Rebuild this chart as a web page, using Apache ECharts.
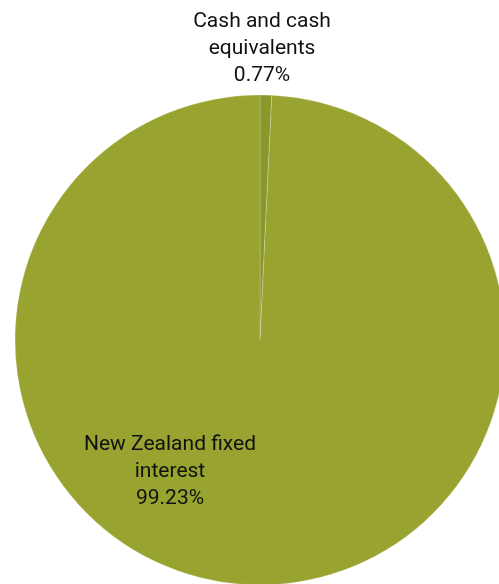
<!DOCTYPE html>
<html>
<head>
<meta charset="utf-8">
<script src="https://cdn.jsdelivr.net/npm/echarts@6/dist/echarts.min.js"></script>
<style>html,body{margin:0;padding:0;background:#fff;}#c{width:499px;height:584px;}</style>
</head>
<body>
<div id="c"></div>
<script>
const categories = ["Cash and cash\nequivalents", "New Zealand fixed\ninterest"];
const values = [0.77, 99.23];
const colors = ["#8a982b", "#98a330"];
const labelPos = [[262, 49], [170, 472]];

const chart = echarts.init(document.getElementById('c'), null, {renderer: 'canvas'});
chart.setOption({
  animation: false,
  series: [{
    type: 'pie',
    center: [260, 340],
    radius: 245,
    startAngle: 90,
    clockwise: true,
    avoidLabelOverlap: false,
    data: categories.map((n, i) => ({name: n, value: values[i], itemStyle: {color: colors[i]}})),
    itemStyle: {borderColor: 'rgba(255,255,255,0.55)', borderWidth: 0.4},
    label: {
      show: true,
      position: 'inside',
      formatter: p => p.name + '\n' + p.value.toFixed(2) + '%',
      fontFamily: 'Roboto',
      fontSize: 21,
      lineHeight: 27,
      color: '#111',
      align: 'center'
    },
    labelLine: {show: false},
    labelLayout: p => ({x: labelPos[p.dataIndex][0], y: labelPos[p.dataIndex][1], align: 'center', verticalAlign: 'middle'}),
    emphasis: {disabled: true}
  }]
});
</script>
</body>
</html>
